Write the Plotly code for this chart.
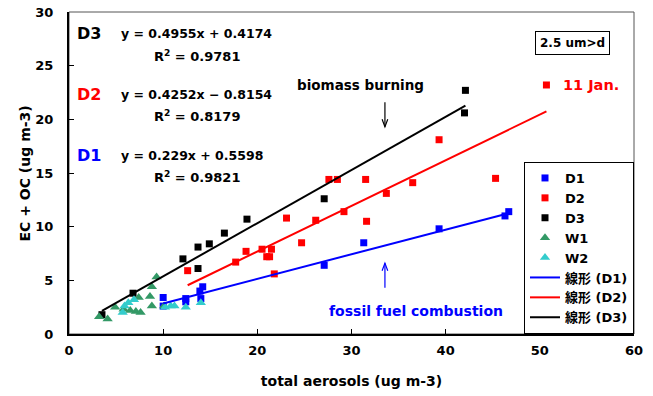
import numpy as np
import plotly.graph_objects as go

# Total aerosol mass (x) vs EC + OC (y), ug m-3
d1_x = [10.0, 10.0, 12.4, 12.4, 13.9, 14.2, 14.0, 27.1, 31.3, 39.3, 46.3, 46.7]
d1_y = [3.4, 2.6, 3.3, 3.0, 4.0, 4.4, 3.3, 6.4, 8.5, 9.8, 11.0, 11.4]

d2_x = [12.6, 17.7, 18.8, 20.5, 21.0, 21.3, 21.5, 21.8, 23.1, 24.7, 26.2,
        27.6, 28.5, 29.2, 31.5, 31.6, 33.7, 36.5, 39.3, 45.3, 50.7]
d2_y = [5.9, 6.7, 7.7, 7.9, 7.2, 7.2, 7.9, 5.6, 10.8, 8.5, 10.6,
        14.4, 14.4, 11.4, 14.4, 10.5, 13.1, 14.1, 18.1, 14.5, 23.2]

d3_x = [3.5, 6.8, 12.1, 13.7, 13.7, 14.9, 16.5, 18.9, 27.1, 42.1, 42.0]
d3_y = [1.8, 3.8, 7.0, 8.1, 6.1, 8.4, 9.4, 10.7, 12.6, 22.7, 20.6]

w1_x = [3.2, 4.1, 4.9, 5.8, 6.5, 7.1, 7.6, 7.4, 8.6, 8.8, 8.8, 9.3, 10.1]
w1_y = [1.6, 1.4, 2.5, 2.3, 2.2, 2.1, 2.0, 3.4, 3.5, 4.4, 2.6, 5.3, 2.6]

w2_x = [5.7, 5.9, 6.3, 6.9, 10.2, 10.8, 11.2, 12.4, 14.0]
w2_y = [2.0, 2.6, 2.9, 3.2, 2.5, 2.6, 2.6, 2.5, 2.9]

# Linear fits (slope, intercept, R^2)
fit_d1 = (0.229, 0.5598, 0.9821)
fit_d2 = (0.4252, -0.8154, 0.8179)
fit_d3 = (0.4955, 0.4174, 0.9781)

BLUE = "#0000FF"
RED = "#FF0000"
BLACK = "#000000"
GREEN = "#339966"
CYAN = "#33CCCC"
FONT = "DejaVu Sans, Noto Sans CJK JP"

fig = go.Figure()

def scatter(x, y, name, color, symbol, size):
    fig.add_trace(go.Scatter(
        x=x, y=y, mode="markers", name=name,
        marker=dict(color=color, symbol=symbol, size=size, line=dict(width=0)),
    ))

scatter(d1_x, d1_y, "D1", BLUE, "square", 7)
scatter(d2_x, d2_y, "D2", RED, "square", 7)
scatter(d3_x, d3_y, "D3", BLACK, "square", 7)
scatter(w1_x, w1_y, "W1", GREEN, "triangle-up", 9)
scatter(w2_x, w2_y, "W2", CYAN, "triangle-up", 9)

def fit_line(xs, fit, name, color):
    lx = np.array([min(xs), max(xs)])
    ly = fit[0] * lx + fit[1]
    fig.add_trace(go.Scatter(
        x=lx, y=ly, mode="lines", name=name,
        line=dict(color=color, width=2),
    ))

fit_line(d1_x, fit_d1, "線形 (D1)", BLUE)
fit_line(d2_x, fit_d2, "線形 (D2)", RED)
fit_line(d3_x, fit_d3, "線形 (D3)", BLACK)

def eq_text(fit):
    sign = "+" if fit[1] >= 0 else "−"
    return f"y = {fit[0]:g}x {sign} {abs(fit[1]):g}"

ann = []

def text(x, y, s, color=BLACK, size=13, xanchor="left", **kw):
    ann.append(dict(x=x, y=y, xref="x", yref="y", text=s, showarrow=False,
                    xanchor=xanchor, yanchor="middle",
                    font=dict(family=FONT, size=size, color=color, weight="bold"), **kw))

rows = [("D3", BLACK, fit_d3, 28.0, 25.9),
        ("D2", RED, fit_d2, 22.3, 20.3),
        ("D1", BLUE, fit_d1, 16.6, 14.6)]
for label, color, fit, ye, yr in rows:
    text(0.6, ye, label, color=color, size=16)
    text(5.3, ye, eq_text(fit), size=12.5)
    text(13.6, yr, f"R<sup>2</sup> = {fit[2]:.4f}", xanchor="center", size=13)

text(31.0, 23.2, "biomass burning", size=13.5, xanchor="center")
text(36.8, 2.1, "fossil fuel combustion", color=BLUE, size=14, xanchor="center")
text(52.3, 23.2, "11 Jan.", color=RED, size=14.5)

# size-range label box
ann.append(dict(x=53.5, y=27.1, xref="x", yref="y", text="2.5 um>d",
                showarrow=False, xanchor="center", yanchor="middle",
                font=dict(family=FONT, size=12, color=BLACK, weight="bold"),
                bordercolor=BLACK, borderwidth=1, borderpad=4, bgcolor="white"))

# y-axis title
ann.append(dict(x=-0.077, y=0.5, xref="paper", yref="paper",
                text="EC + OC (ug m-3)", textangle=-90, showarrow=False,
                xanchor="center", yanchor="middle",
                font=dict(family=FONT, size=14, color=BLACK, weight="bold")))

# arrow shafts and heads drawn as shapes
def arrow(x, y_tail, y_head, color):
    shapes.append(dict(type="line", xref="x", yref="y", x0=x, x1=x,
                       y0=y_tail, y1=y_head, line=dict(color=color, width=1.2)))
    d = -1 if y_head < y_tail else 1
    hx, hy = 0.3, 0.7
    shapes.append(dict(type="path", xref="x", yref="y",
                       path=f"M {x - hx},{y_head - d * hy} L {x},{y_head} "
                            f"L {x + hx},{y_head - d * hy}",
                       line=dict(color=color, width=1.2)))

shapes = [dict(type="rect", xref="paper", yref="paper", x0=0, x1=1, y0=0, y1=1,
               line=dict(color="#555555", width=1), layer="below")]
arrow(33.55, 21.6, 19.3, BLACK)
arrow(33.55, 4.3, 6.6, BLUE)

fig.update_layout(
    width=653, height=396,
    margin=dict(l=69, r=19, t=12, b=62, autoexpand=False),
    paper_bgcolor="white", plot_bgcolor="white",
    font=dict(family=FONT, size=13, color=BLACK),
    annotations=ann,
    shapes=shapes,
    showlegend=True,
    legend=dict(x=1, y=0, xanchor="right", yanchor="bottom",
                bordercolor=BLACK, borderwidth=1, bgcolor="white",
                font=dict(family=FONT, size=13, color=BLACK, weight="bold"),
                tracegroupgap=0, itemwidth=30),
)

fig.update_xaxes(
    range=[0, 60], dtick=10, showgrid=False, zeroline=False,
    showline=True, linecolor=BLACK, linewidth=2,
    ticks="inside", ticklen=5, tickcolor=BLACK,
    tickfont=dict(family=FONT, size=13, weight="bold"),
    ticklabelstandoff=3,
    title=dict(text="total aerosols (ug m-3)",
               font=dict(family=FONT, size=14, weight="bold"), standoff=20),
)
fig.update_yaxes(
    range=[0, 30], dtick=5, showgrid=False, zeroline=False,
    showline=True, linecolor=BLACK, linewidth=2,
    ticks="inside", ticklen=5, tickcolor=BLACK,
    tickfont=dict(family=FONT, size=13, weight="bold"),
    ticklabelstandoff=11,
)

fig.write_html("out.html")
